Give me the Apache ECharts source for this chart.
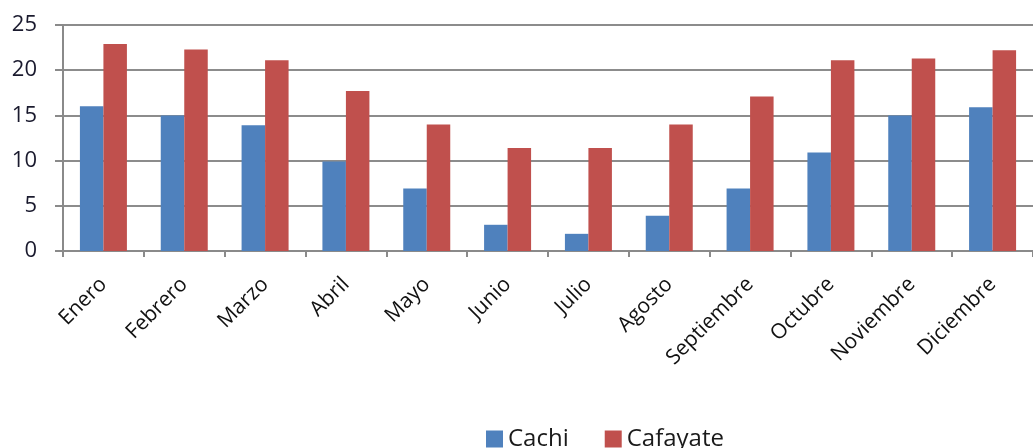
<!DOCTYPE html>
<html>
<head>
<meta charset="utf-8">
<script src="https://cdn.jsdelivr.net/npm/echarts@6/dist/echarts.min.js"></script>
<style>
  html, body { margin: 0; padding: 0; background: #fff; }
  #container { width: 1033px; height: 448px; }
</style>
</head>
<body>
<div id="container"></div>
<script>
// 月份
var meses = ["Enero", "Febrero", "Marzo", "Abril", "Mayo", "Junio", "Julio",
    "Agosto", "Septiembre", "Octubre", "Noviembre", "Diciembre"];
// 两个站点的数据
var cachi = [16, 15, 13.9, 9.9, 6.9, 2.9, 1.9, 3.9, 6.9, 10.9, 15, 15.9];
var cafayate = [22.9, 22.3, 21.1, 17.7, 14, 11.4, 11.4, 14, 17.1, 21.1, 21.3, 22.2];
var yTicks = [0, 5, 10, 15, 20, 25];

var fontName = "'Open Sans', 'Liberation Sans', sans-serif";

window.onload = function() {
    var myChart = echarts.init(document.getElementById("container"));
    myChart.setOption({
        animation: false,
        backgroundColor: "#ffffff",
        textStyle: { fontFamily: fontName },
        legend: {
            top: 422,
            left: 481,
            itemWidth: 17,
            itemHeight: 17,
            itemGap: 36,
            icon: "rect",
            textStyle: { fontSize: 24, color: "#1a1a1a", fontFamily: fontName },
            data: ["Cachi", "Cafayate"]
        },
        grid: {
            left: 63,
            top: 25,
            width: 980,
            height: 226
        },
        xAxis: {
            type: "category",
            data: meses,
            axisLine: { lineStyle: { color: "#8a8a8a", width: 2 } },
            axisTick: { show: true, length: 6, lineStyle: { color: "#8a8a8a", width: 2 } },
            axisLabel: {
                rotate: 45,
                interval: 0,
                margin: 30,
                fontSize: 21,
                color: "#111111",
                fontFamily: fontName
            }
        },
        yAxis: {
            type: "value",
            min: yTicks[0],
            max: yTicks[yTicks.length - 1],
            interval: 5,
            axisLine: { show: true, lineStyle: { color: "#8a8a8a", width: 2 } },
            axisTick: { show: true, length: 8, lineStyle: { color: "#8a8a8a", width: 2 } },
            splitLine: { lineStyle: { color: "#8c8c8c", width: 2 } },
            axisLabel: {
                margin: 26,
                fontSize: 22,
                color: "#1a1a2e",
                fontFamily: fontName
            }
        },
        series: [
            {
                name: "Cachi",
                type: "bar",
                data: cachi,
                barWidth: 23.5,
                barGap: "0%",
                itemStyle: { color: "#4F81BD" }
            },
            {
                name: "Cafayate",
                type: "bar",
                data: cafayate,
                barWidth: 23.5,
                barGap: "0%",
                itemStyle: { color: "#C0504D" }
            }
        ]
    });
};
</script>
</body>
</html>
